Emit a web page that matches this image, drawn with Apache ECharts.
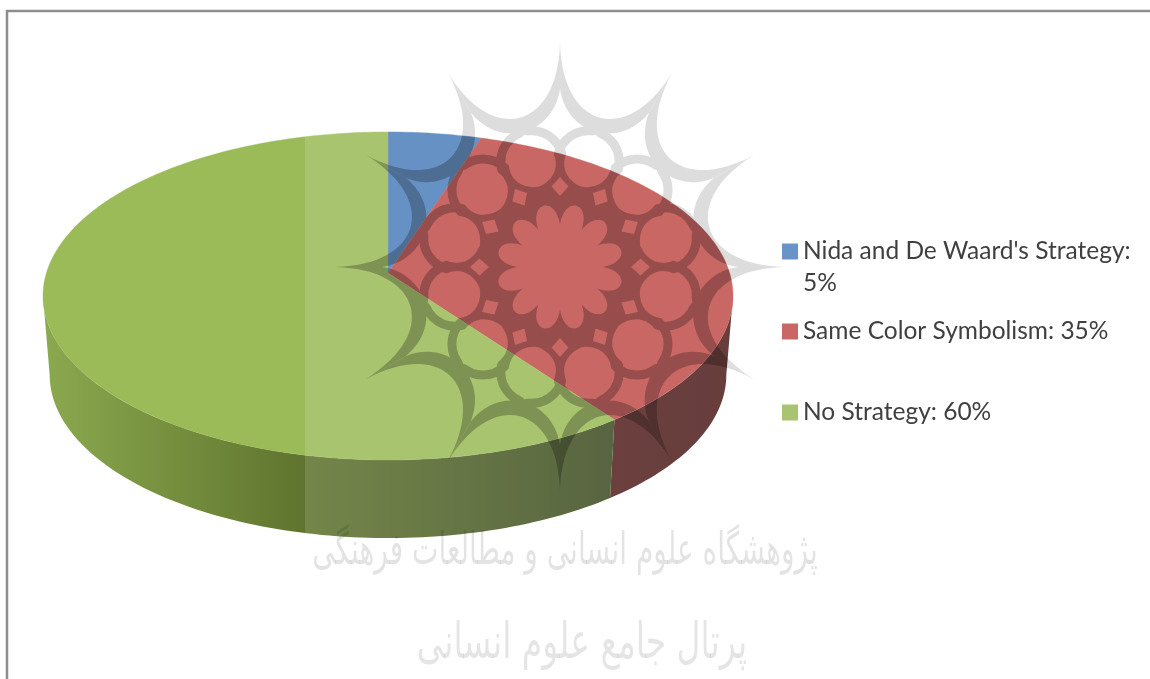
<!DOCTYPE html>
<html><head><meta charset="utf-8">
<style>html,body{margin:0;padding:0;background:#fff}#c{width:1150px;height:679px}</style>
<script src="https://cdn.jsdelivr.net/npm/echarts@6/dist/echarts.min.js"></script>
</head><body><div id="c"></div>
<script>
const categories = ["Nida and De Waard's Strategy:", "Same Color Symbolism: 35%", "No Strategy: 60%"];
const secondLine = "5%";
const values = [5, 35, 60];
const topColors = ["#4F81BD", "#C0504D", "#9BBB59"];
const legendColors = ["#6A94C8", "#C86765", "#A8C470"];
const watermarkLine1 = "پژوهشگاه علوم انسانی و مطالعات فرهنگی";
const watermarkLine2 = "پرتال جامع علوم انسانی";

const TOP = {cx:388, cy:273, rx:341.6, ry:160.8};
const BOT = {cx:388, cy:352, rx:335, ry:160};
const K = 0.14;
const FRONT = [Math.acos(-K), 2*Math.PI - Math.acos(-K)];
function proj(p, t){
  const u=Math.sin(t), v=Math.cos(t), w=1+K*v;
  return [p.cx+p.rx*u/w, p.cy-p.ry*v/w];
}
function arc(p,a,b){
  const n=Math.max(2,Math.ceil((b-a)/0.02)), pts=[];
  for(let i=0;i<=n;i++) pts.push(proj(p,a+(b-a)*i/n));
  return pts;
}
const total = values.reduce((s,v)=>s+v,0);
function sliceAngles(i){
  let s=0; for(let j=0;j<i;j++) s+=values[j];
  return [s/total*2*Math.PI,(s+values[i])/total*2*Math.PI];
}
const greenWall={type:'linear',x:44,y:0,x2:610,y2:0,global:true,colorStops:[
  {offset:0,color:'#8BA94F'},{offset:0.46,color:'#5F742E'},{offset:1,color:'#3F4E24'}]};
const redWall={type:'linear',x:610,y:0,x2:730,y2:0,global:true,colorStops:[
  {offset:0,color:'#552322'},{offset:1,color:'#512120'}]};
const wallFills=[null,redWall,greenWall];

function renderSlice(i){
  const [a,b]=sliceAngles(i), children=[];
  const wa=Math.max(a,FRONT[0]), wb=Math.min(b,FRONT[1]);
  if(wb>wa){
    children.push({type:'polygon',shape:{points:arc(TOP,wa,wb).concat(arc(BOT,wa,wb).reverse())},
      style:{fill:wallFills[i]}});
  }
  const apex=[TOP.cx,TOP.cy];
  children.push({type:'polygon',shape:{points:[apex].concat(arc(TOP,a,b))},
    style:{fill:topColors[i],stroke:topColors[i],lineWidth:0.4}});
  return {type:'group',children};
}

/* decorative watermark rosette, prepared once and handed to ECharts as an image */
function buildRosette(){
  const cv=document.createElement('canvas'); cv.width=1150; cv.height=679;
  const g=cv.getContext('2d'), C=[560,267];
  const P=(r,d)=>{const t=d*Math.PI/180;return [C[0]+r*Math.sin(t),C[1]-r*Math.cos(t)];};
  g.filter='blur(0.7px)';
  g.fillStyle='#000'; g.strokeStyle='#000';
  for(let n=0;n<12;n++){
    const a=30*n,b=a+30;
    g.beginPath();
    g.moveTo(...P(224,a));
    g.bezierCurveTo(...P(138,a+1),...P(138,b-1),...P(224,b));
    g.lineTo(...P(178,b));
    g.bezierCurveTo(...P(132,b-3),...P(132,a+3),...P(178,a));
    g.closePath(); g.fill();
  }
  // dark ground
  g.beginPath(); g.arc(C[0],C[1],95,0,7); g.fill();
  // rings
  for(let n=0;n<12;n++){
    const q=P(109,15+30*n);
    g.lineWidth=9; g.beginPath(); g.arc(q[0],q[1],31,0,7); g.stroke();
  }
  g.globalCompositeOperation='destination-out';
  // ring holes, slightly pointed along the radius
  for(let n=0;n<12;n++){
    const a=15+30*n;
    const A=P(83,a),B=P(137,a),L1=P(92,a-19),L2=P(127,a-15),R1=P(92,a+19),R2=P(127,a+15);
    g.beginPath(); g.moveTo(...A); g.bezierCurveTo(...L1,...L2,...B); g.bezierCurveTo(...R2,...R1,...A); g.fill();
  }
  // diamonds
  for(let n=0;n<12;n++){
    const d=30*n,r0=71,r1=90,w=6;
    g.beginPath(); g.moveTo(...P(r0,d)); g.lineTo(...P(81,d+w)); g.lineTo(...P(r1,d)); g.lineTo(...P(81,d-w)); g.closePath(); g.fill();
  }
  // central twelve-petal flower
  g.beginPath();
  for(let n=0;n<12;n++){
    const a=30*n+15;
    const v0=P(43,a-15), c0=P(72,a-11), c1=P(72,a+11), v1=P(43,a+15);
    if(n===0) g.moveTo(...v0);
    g.bezierCurveTo(...c0,...c1,...v1);
  }
  g.closePath(); g.fill();
  g.globalCompositeOperation='source-over';
  return cv;
}
const rosette=buildRosette();
const full={x:0,y:0,width:1150,height:679};

const chart=echarts.init(document.getElementById('c'),null,{renderer:'canvas'});
const legendBase={orient:'vertical',left:782,padding:0,itemWidth:16,itemHeight:16,itemGap:6,z:20,selectedMode:false,
  icon:'rect',textStyle:{fontFamily:'Lato',fontSize:24.5,color:'#404040'}};
const legendTops=[239,319,400];
chart.setOption({
  animation:false,
  backgroundColor:'transparent',
  legend:categories.map((c,i)=>Object.assign({},legendBase,{
    top:legendTops[i],data:[{name:c,itemStyle:{color:legendColors[i]}}]})),
  series:categories.map((c,i)=>({
    type:'custom',name:c,coordinateSystem:'none',z:2,silent:true,
    itemStyle:{color:legendColors[i]},
    data:[[values[i]]],
    renderItem:()=>renderSlice(i)
  })),
  graphic:{elements:[
    {type:'rect',z:10,silent:true,shape:{x:305,y:0,width:560,height:679},style:{fill:'rgba(255,255,255,0.13)',blend:'source-atop'}},
    {type:'image',z:11,silent:true,style:Object.assign({image:rosette,opacity:0.25,blend:'source-atop'},full)},
    {type:'image',z:12,silent:true,style:Object.assign({image:rosette,opacity:0.135,blend:'destination-over'},full)},
    {type:'text',z:13,silent:true,x:565,y:552,scaleY:1.6,style:{x:0,y:0,text:watermarkLine1,align:'center',verticalAlign:'middle',
      font:'28px "DejaVu Sans"',fill:'rgba(0,0,0,0.11)'}},
    {type:'text',z:13,silent:true,x:582,y:645,scaleY:1.5,style:{x:0,y:0,text:watermarkLine2,align:'center',verticalAlign:'middle',
      font:'33px "DejaVu Sans"',fill:'rgba(0,0,0,0.1)'}},
    {type:'text',z:21,silent:true,style:{x:803,y:283,text:secondLine,align:'left',verticalAlign:'middle',
      font:'24.5px Lato',fill:'#404040'}},
    {type:'rect',z:22,silent:true,shape:{x:7,y:11,width:1300,height:900},style:{fill:'none',stroke:'#8E8E8E',lineWidth:2.5}}
  ]}
});
</script></body></html>
